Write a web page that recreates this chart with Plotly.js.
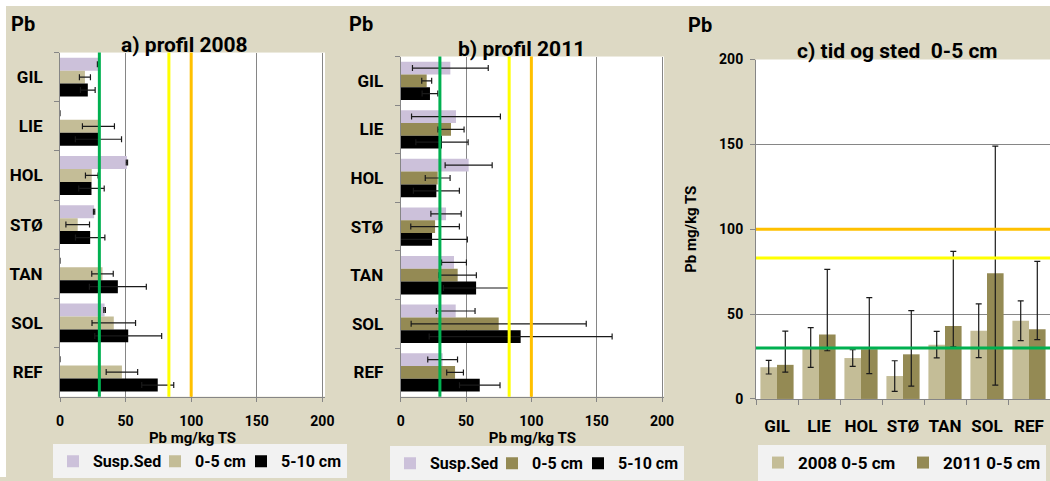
<!DOCTYPE html>
<html>
<head>
<meta charset="utf-8">
<script src="https://cdn.plot.ly/plotly-3.0.1.min.js"></script>
<style>
html,body{margin:0;padding:0;background:#ffffff;}
#chart{width:1050px;height:481px;}
</style>
</head>
<body>
<div id="chart"></div>
<script>
// ---- data ----
const sites = ['GIL','LIE','HOL','STØ','TAN','SOL','REF'];
const xTicks = [0, 50, 100, 150, 200];

// a) profil 2008
const aSusp     = [29, 0, 51, 26, 0, 34, 0];
const aSuspErr  = [0.5, 0, 0.5, 0.5, 0, 0.6, 0];
const a05       = [19, 29.3, 24.2, 13.5, 32.4, 41, 47.2];
const a05Err    = [4.2, 12.2, 4.8, 9, 8.2, 16.6, 12];
const a510      = [21.2, 29.3, 24, 23, 44.1, 52, 74.5];
const a510Err   = [5.6, 17.6, 9.7, 11.2, 21.7, 25.5, 12.2];

// b) profil 2011
const bSusp     = [38, 42.3, 52, 34.7, 40.8, 42.1, 32.1];
const bSuspErr  = [29, 34, 18, 11.6, 9.5, 14.8, 11.4];
const b05       = [19.9, 38.5, 28.3, 26.3, 43.6, 75, 41.6];
const b05Err    = [3.8, 10, 9.5, 18.6, 14.3, 67, 6.4];
const b510      = [22.4, 31.6, 27.3, 24, 57.7, 91.8, 60.5];
const b510Err   = [6, 20, 17.6, 27, 25, 70, 15.5];

// c) tid og sted 0-5 cm
const c2008     = [18.7, 30.3, 24.1, 13.5, 32, 40.2, 46.1];
const c2008Err  = [4, 11.7, 4.9, 9, 7.8, 15.8, 11.7];
const c2011     = [20.1, 38, 29.3, 26.3, 43, 74.1, 41.1];
const c2011Up   = [19.9, 38.3, 30.4, 25.8, 43.9, 74.9, 40];
const c2011Down = [4.3, 9.6, 14.4, 18.8, 12.3, 66, 6.2];

// reference levels
const levelGreen = 30, levelYellow = 83, levelOrange = 100;

// ---- style ----
const W = 1050, H = 481;
const FAM = 'Roboto, "Liberation Sans", sans-serif';
const bold = (s) => ({family: FAM, size: s, color: '#000', weight: 700});
const GRID = '#868686';
const col = {susp: '#ccc1da', tan: '#c4bd97', olive: '#948a54', black: '#000000'};
const errStyle = (arr) => ({type: 'data', array: arr, visible: true, color: '#1a1a1a', thickness: 1.2, width: 3});

const px = (x) => x / W;
const py = (y) => 1 - y / H;

const traces = [
  {type:'bar', orientation:'h', name:'Susp.Sed', y: sites, x: aSusp, error_x: errStyle(aSuspErr), marker:{color:col.susp}, xaxis:'x', yaxis:'y', legend:'legend', legendwidth: 57},
  {type:'bar', orientation:'h', name:'0-5 cm', y: sites, x: a05, error_x: errStyle(a05Err), marker:{color:col.tan}, xaxis:'x', yaxis:'y', legend:'legend', legendwidth: 41},
  {type:'bar', orientation:'h', name:'5-10 cm', y: sites, x: a510, error_x: errStyle(a510Err), marker:{color:col.black}, xaxis:'x', yaxis:'y', legend:'legend'},

  {type:'bar', orientation:'h', name:'Susp.Sed', y: sites, x: bSusp, error_x: errStyle(bSuspErr), marker:{color:col.susp}, xaxis:'x2', yaxis:'y2', legend:'legend2', legendwidth: 57},
  {type:'bar', orientation:'h', name:'0-5 cm', y: sites, x: b05, error_x: errStyle(b05Err), marker:{color:col.olive}, xaxis:'x2', yaxis:'y2', legend:'legend2', legendwidth: 41},
  {type:'bar', orientation:'h', name:'5-10 cm', y: sites, x: b510, error_x: errStyle(b510Err), marker:{color:col.black}, xaxis:'x2', yaxis:'y2', legend:'legend2'},

  {type:'bar', name:'2008 0-5 cm', x: sites, y: c2008, error_y: errStyle(c2008Err), marker:{color:col.tan}, xaxis:'x3', yaxis:'y3', legend:'legend3', legendwidth: 100},
  {type:'bar', name:'2011 0-5 cm', x: sites, y: c2011,
   error_y: Object.assign(errStyle(c2011Up), {symmetric:false, arrayminus: c2011Down}),
   marker:{color:col.olive}, xaxis:'x3', yaxis:'y3', legend:'legend3'}
];

function valueAxis(domain, range, anchor, extra) {
  return Object.assign({
    domain: domain, range: range, anchor: anchor, tickvals: xTicks,
    showgrid: true, gridcolor: GRID, gridwidth: 1, zeroline: false,
    showline: true, linecolor: GRID, linewidth: 1,
    ticks: 'outside', ticklen: 4, tickcolor: GRID,
    tickfont: bold(14), fixedrange: true
  }, extra || {});
}
function catAxis(domain, anchor, extra) {
  return Object.assign({
    domain: domain, anchor: anchor, type: 'category',
    tickson: 'boundaries', ticks: 'outside', ticklen: 5, tickcolor: GRID,
    showline: true, linecolor: GRID, linewidth: 1, showgrid: false,
    tickfont: bold(17), fixedrange: true
  }, extra || {});
}

function vline(xref, yref, x, color) {
  return {type:'line', xref:xref, yref:yref + ' domain', x0:x, x1:x, y0:0, y1:1, line:{color:color, width:3}, layer:'above'};
}
function hline(xref, yref, y, color) {
  return {type:'line', xref:xref + ' domain', yref:yref, x0:0, x1:1, y0:y, y1:y, line:{color:color, width:3}, layer:'above'};
}

const legendBase = (x, y, xanchor, size) => ({
  orientation: 'h', x: x, y: y, xanchor: xanchor, yanchor: 'top',
  bgcolor: '#f2f2f2', borderwidth: 0, font: bold(size), traceorder: 'normal',
  itemclick: false, itemdoubleclick: false
});

const layout = {
  width: W, height: H,
  margin: {l: 0, r: 0, t: 0, b: 0, pad: 0},
  paper_bgcolor: '#ddd9c4',
  plot_bgcolor: '#ffffff',
  barmode: 'group', bargap: 0.21, bargroupgap: 0,
  font: {family: FAM, color: '#000'},

  xaxis: valueAxis([px(60), px(325)], [0, 202], 'y', {ticklabelstandoff: 8, title: {text: 'Pb mg/kg TS', font: bold(15), standoff: 2}}),
  yaxis: catAxis([py(400), py(53)], 'x', {autorange: 'reversed', ticklabelstandoff: 13}),

  xaxis2: valueAxis([px(400.7), px(664)], [0, 201.5], 'y2', {ticklabelstandoff: 8, title: {text: 'Pb mg/kg TS', font: bold(15), standoff: 2}}),
  yaxis2: catAxis([py(400), py(57)], 'x2', {autorange: 'reversed', ticklabelstandoff: 13}),

  xaxis3: catAxis([px(756), 1], 'y3', {ticklabelstandoff: 12, tickangle: 0}),
  yaxis3: valueAxis([py(402.3), py(60)], [0, 200], 'x3', {tickfont: bold(14), ticklen: 5, ticklabelstandoff: 4,
    title: {text: 'Pb mg/kg TS', font: bold(15), standoff: 18}}),

  shapes: [
    {type:'rect', xref:'paper', yref:'paper', x0:0, x1:1, y0:py(6), y1:1, fillcolor:'#ffffff', line:{width:0}, layer:'below'},
    {type:'rect', xref:'paper', yref:'paper', x0:0, x1:px(6), y0:0, y1:1, fillcolor:'#ffffff', line:{width:0}, layer:'below'},
    vline('x', 'y', levelGreen, '#00b050'),
    vline('x', 'y', levelYellow, '#ffff00'),
    vline('x', 'y', levelOrange, '#ffc000'),
    vline('x2', 'y2', levelGreen, '#00b050'),
    vline('x2', 'y2', levelYellow, '#ffff00'),
    vline('x2', 'y2', levelOrange, '#ffc000'),
    hline('x3', 'y3', levelGreen, '#00b050'),
    hline('x3', 'y3', levelYellow, '#ffff00'),
    hline('x3', 'y3', levelOrange, '#ffc000')
  ],

  annotations: [
    {text: 'Pb', xref:'paper', yref:'paper', x: px(9), y: py(24), xanchor:'left', yanchor:'middle', showarrow:false, font: bold(20)},
    {text: 'Pb', xref:'paper', yref:'paper', x: px(347), y: py(24), xanchor:'left', yanchor:'middle', showarrow:false, font: bold(20)},
    {text: 'Pb', xref:'paper', yref:'paper', x: px(686), y: py(25), xanchor:'left', yanchor:'middle', showarrow:false, font: bold(20)},
    {text: 'a) profil 2008', xref:'paper', yref:'paper', x: px(184), y: py(45), xanchor:'center', yanchor:'middle', showarrow:false, font: bold(21)},
    {text: 'b) profil 2011', xref:'paper', yref:'paper', x: px(521), y: py(49), xanchor:'center', yanchor:'middle', showarrow:false, font: bold(21)},
    {text: 'c) tid og sted\u00a0 0-5 cm', xref:'paper', yref:'paper', x: px(897), y: py(51), xanchor:'center', yanchor:'middle', showarrow:false, font: bold(21)}
  ],

  showlegend: true,
  legend: legendBase(px(200), py(448), 'center', 16),
  legend2: legendBase(px(537), py(450), 'center', 16),
  legend3: legendBase(px(758), py(449), 'left', 17)
};

Plotly.newPlot('chart', traces, layout, {staticPlot: true, displayModeBar: false});
</script>
</body>
</html>
